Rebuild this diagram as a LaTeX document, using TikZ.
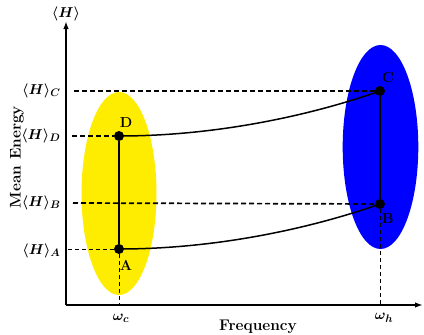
\documentclass[tikz,border=0pt]{standalone}
\usepackage{bm}
\usetikzlibrary{arrows.meta}
\begin{document}
\begin{tikzpicture}[x=1bp,y=-1bp,
  axis/.style={line width=1.8bp,-{Latex[length=8bp,width=5.5bp]}},
  dot/.style={circle,fill=black,inner sep=0pt,minimum size=10bp},
  thickdash/.style={line width=1.7bp,dash pattern=on 5bp off 3bp},
  thindash/.style={line width=0.9bp,dash pattern=on 4bp off 3bp},
  link/.style={line width=1.5bp},
  lbl/.style={font=\fontsize{15}{18}\selectfont\boldmath},
  ptlbl/.style={font=\fontsize{14.5}{17}\selectfont\bfseries},
  axlbl/.style={font=\fontsize{15.5}{18}\selectfont\bfseries}]
\useasboundingbox (0,0) rectangle (424,335);
% ellipses
\fill[yellow!95!orange] (119,193.5) ellipse [x radius=37.5, y radius=101.5];
\fill[blue] (380.5,147) ellipse [x radius=37.8, y radius=102];
% axes
\coordinate (O) at (66,305);
\coordinate (Ytop) at (66,21);
\coordinate (Xend) at (423,305);
\draw[axis] (O) -- (Ytop);
\draw[axis] (O) -- (Xend);
% points
\node[dot] (A) at (119,249) {};
\node[dot] (D) at (119,136) {};
\node[dot] (C) at (380,91) {};
\node[dot] (B) at (380,204) {};
% dashed guides
\coordinate (hC) at (74,91);
\coordinate (hD) at (72,136);
\coordinate (hB) at (73,203);
\coordinate (hA) at (68,249);
\coordinate (wc) at (119,305);
\coordinate (wh) at (380,305);
\draw[thickdash] (hC) -- (C);
\draw[thickdash] (hD) -- (D);
\draw[thickdash] (hB) -- (B);
\draw[thindash] (hA) -- (A);
\draw[thindash] (A) -- (wc);
\draw[thindash] (B) -- (wh);
% solid links
\draw[link] (A) -- (D);
\draw[link] (B) -- (C);
\draw[link] (D.center) .. controls (220,136) and (315,114) .. (C.center);
\draw[link] (A.center) .. controls (220,249) and (315,227) .. (B.center);
% labels
\node[lbl] (lH) at (66,14) {$\langle H\rangle$};
\node[lbl,anchor=east] (lC) at (64,91) {$\langle H\rangle_C$};
\node[lbl,anchor=east] (lD) at (64,136) {$\langle H\rangle_D$};
\node[lbl,anchor=east] (lB) at (64,203) {$\langle H\rangle_B$};
\node[lbl,anchor=east] (lA) at (64,251) {$\langle H\rangle_A$};
\node[lbl] (lwc) at (121,318) {$\omega_c$};
\node[lbl] (lwh) at (384,318) {$\omega_h$};
\node[ptlbl] (tD) at (126,123) {D};
\node[ptlbl] (tA) at (126,265) {A};
\node[ptlbl] (tC) at (388,78) {C};
\node[ptlbl] (tB) at (388,219) {B};
\node[axlbl] (xl) at (258,327) {Frequency};
\node[axlbl,rotate=90] (yl) at (17,157) {Mean Energy};
\end{tikzpicture}
\end{document}
